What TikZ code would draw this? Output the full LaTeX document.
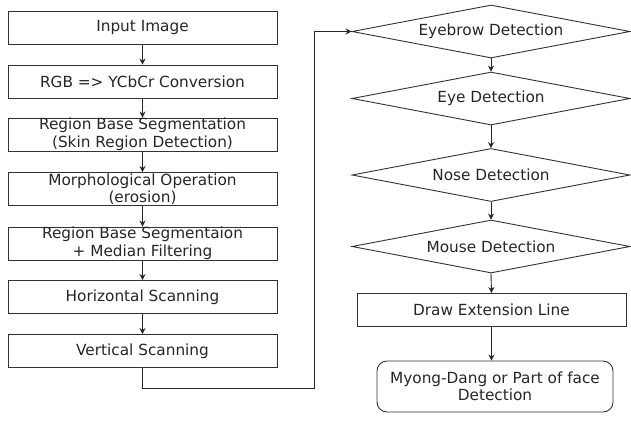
\documentclass[tikz,border=0pt]{standalone}
\usepackage{fontspec}
\setmainfont{DejaVu Sans}
\usetikzlibrary{shapes.geometric,arrows.meta}
\begin{document}
\begin{tikzpicture}[x=1pt,y=-1pt,
  every node/.style={font=\fontsize{15.3}{17.5}\selectfont, text=black!85, inner sep=0pt, align=center},
  box/.style={draw=black!80, line width=0.9pt, rectangle, minimum width=269pt, minimum height=33pt},
  dec/.style={draw=black!80, line width=0.9pt, diamond, aspect=5.2, minimum width=278pt, minimum height=53pt},
  term/.style={draw=black!80, line width=0.9pt, rectangle, rounded corners=10pt, minimum width=236pt, minimum height=51pt},
  arr/.style={draw=black!85, line width=0.9pt, -{Stealth[length=6pt,width=6pt]}}]
\useasboundingbox (0,0) rectangle (631,421);
% left column
\node[box] (b1) at (142.5,28) {Input Image};
\node[box] (b2) at (142.5,81.5) {RGB => YCbCr Conversion};
\node[box] (b3) at (142.5,134.5) {Region Base Segmentation\\(Skin Region Detection)};
\node[box] (b4) at (142.5,189) {Morphological Operation\\(erosion)};
\node[box] (b5) at (142.5,243.5) {Region Base Segmentaion\\+ Median Filtering};
\node[box] (b6) at (142.5,297) {Horizontal Scanning};
\node[box] (b7) at (142.5,351) {Vertical Scanning};
% right column
\node[dec] (d1) at (491,31.5) {Eyebrow Detection};
\node[dec] (d2) at (491,98.5) {Eye Detection};
\node[dec] (d3) at (491,175) {Nose Detection};
\node[dec] (d4) at (491,246.5) {Mouse Detection};
\node[box] (ext) at (491.5,310) {Draw Extension Line};
\node[term] (fin) at (495,386.5) {Myong-Dang or Part of face\\Detection};
\coordinate (turn) at (314,388);
% connectors
\foreach \a/\b in {b1/b2,b2/b3,b3/b4,b4/b5,b5/b6,b6/b7,d1/d2,d2/d3,d3/d4,d4/ext}
  \draw[arr] (\a.south) -- (\b.north);
\draw[arr] (ext.south) -- (ext.south |- fin.north);
\draw[arr] (b7.south) |- (turn) |- (d1.west);
\end{tikzpicture}
\end{document}
